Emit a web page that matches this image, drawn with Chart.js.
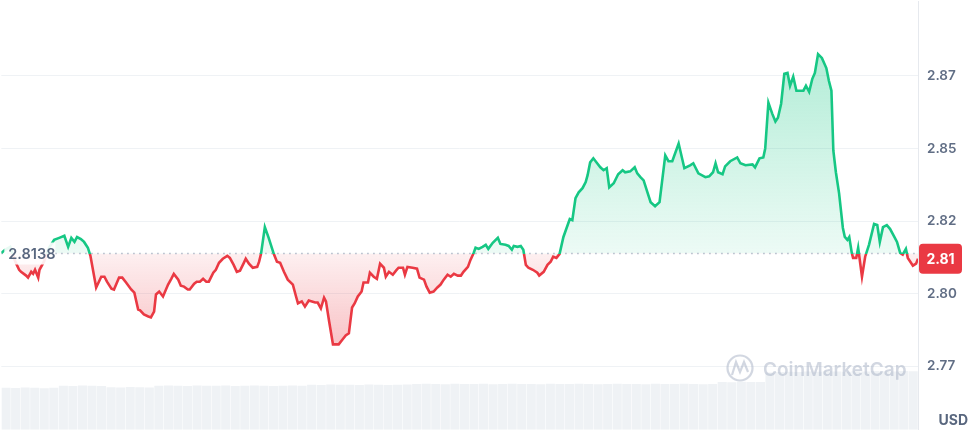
<!DOCTYPE html>
<html>
<head>
<meta charset="utf-8">
<script src="https://cdn.jsdelivr.net/npm/chart.js@4.4.1/dist/chart.umd.min.js"></script>
<style>
  html, body { margin: 0; padding: 0; background: #fff; }
  #wrap { width: 971px; height: 431px; position: relative; }
</style>
</head>
<body>
<div id="wrap"><canvas id="myChart"></canvas></div>
<script>
// precio de apertura (linea punteada) y ticks del eje
const openPrice = 2.8138;
const yTicks = [2.775, 2.8, 2.825, 2.85, 2.875];

// minutos desde el inicio de las 24h
const times = [
  0, 6, 14, 22, 28, 31, 39, 42, 47, 50, 53, 58, 60, 67, 75, 83, 91, 99, 105, 110,
  115, 119, 125, 130, 136, 140, 149, 157, 162, 166, 173, 177, 185, 190, 196, 204, 209, 215, 218, 224,
  231, 235, 240, 243, 248, 254, 262, 267, 271, 278, 282, 287, 293, 296, 303, 307, 312, 317, 322, 326,
  333, 337, 342, 348, 355, 359, 365, 370, 375, 381, 384, 389, 395, 402, 405, 408, 414, 420, 428, 433,
  438, 444, 450, 458, 463, 466, 472, 477, 483, 493, 497, 502, 507, 510, 515, 521, 530, 536, 541, 546,
  551, 555, 560, 566, 569, 576, 579, 585, 590, 595, 601, 604, 609, 615, 620, 624, 631, 634, 638, 646,
  653, 657, 664, 668, 673, 679, 685, 690, 695, 701, 706, 711, 717, 722, 726, 733, 737, 742, 745, 750,
  756, 761, 765, 772, 780, 784, 792, 797, 802, 805, 811, 816, 820, 824, 828, 835, 842, 845, 852, 858,
  863, 867, 872, 877, 883, 888, 893, 897, 902, 907, 913, 918, 921, 925, 930, 936, 941, 946, 951, 955,
  962, 969, 976, 980, 988, 995, 999, 1004, 1009, 1015, 1020, 1027, 1034, 1043, 1048, 1054, 1064, 1073, 1082, 1087,
  1095, 1106, 1112, 1118, 1122, 1126, 1133, 1137, 1145, 1156, 1161, 1169, 1180, 1184, 1191, 1197, 1200, 1205, 1211, 1216,
  1220, 1225, 1230, 1235, 1239, 1244, 1249, 1255, 1260, 1264, 1269, 1274, 1278, 1283, 1289, 1296, 1300, 1304, 1307, 1311,
  1316, 1322, 1325, 1329, 1332, 1336, 1338, 1343, 1346, 1352, 1357, 1363, 1371, 1376, 1380, 1385, 1391, 1396, 1402, 1407,
  1412, 1416, 1421, 1424, 1432, 1437, 1440
];

const prices = [
  2.8140, 2.8151, 2.8161, 2.8110, 2.8082, 2.8075, 2.8062, 2.8055, 2.8075, 2.8068, 2.8082, 2.8055, 2.8082, 2.8110, 2.8158, 2.8185, 2.8192, 2.8199, 2.8161, 2.8192,
  2.8178, 2.8195, 2.8188, 2.8178, 2.8158, 2.8130, 2.8021, 2.8058, 2.8058, 2.8041, 2.8017, 2.8014, 2.8055, 2.8055, 2.8038, 2.8014, 2.8003, 2.7945, 2.7942, 2.7928,
  2.7921, 2.7918, 2.7938, 2.7997, 2.8007, 2.7990, 2.8031, 2.8051, 2.8068, 2.8048, 2.8027, 2.8024, 2.8014, 2.8014, 2.8034, 2.8041, 2.8041, 2.8051, 2.8041, 2.8041,
  2.8072, 2.8082, 2.8106, 2.8120, 2.8130, 2.8123, 2.8099, 2.8075, 2.8079, 2.8106, 2.8120, 2.8103, 2.8089, 2.8092, 2.8110, 2.8137, 2.8229, 2.8192, 2.8137, 2.8110,
  2.8106, 2.8075, 2.8048, 2.8031, 2.7990, 2.7966, 2.7973, 2.7955, 2.7976, 2.7969, 2.7969, 2.7949, 2.7986, 2.7973, 2.7904, 2.7825, 2.7825, 2.7842, 2.7856, 2.7863,
  2.7952, 2.7966, 2.7990, 2.8007, 2.8038, 2.8038, 2.8072, 2.8058, 2.8051, 2.8103, 2.8089, 2.8058, 2.8075, 2.8065, 2.8079, 2.8089, 2.8089, 2.8065, 2.8092, 2.8089,
  2.8086, 2.8055, 2.8048, 2.8024, 2.8003, 2.8007, 2.8021, 2.8031, 2.8048, 2.8065, 2.8058, 2.8068, 2.8062, 2.8062, 2.8075, 2.8092, 2.8116, 2.8140, 2.8158, 2.8154,
  2.8161, 2.8168, 2.8154, 2.8175, 2.8192, 2.8171, 2.8168, 2.8164, 2.8151, 2.8164, 2.8161, 2.8164, 2.8151, 2.8099, 2.8089, 2.8082, 2.8072, 2.8062, 2.8075, 2.8099,
  2.8110, 2.8127, 2.8123, 2.8137, 2.8195, 2.8226, 2.8257, 2.8253, 2.8329, 2.8349, 2.8363, 2.8384, 2.8408, 2.8452, 2.8466, 2.8449, 2.8435, 2.8425, 2.8432, 2.8366,
  2.8380, 2.8411, 2.8425, 2.8418, 2.8421, 2.8435, 2.8414, 2.8401, 2.8390, 2.8349, 2.8315, 2.8301, 2.8315, 2.8476, 2.8456, 2.8456, 2.8517, 2.8432, 2.8442, 2.8449,
  2.8414, 2.8401, 2.8404, 2.8418, 2.8449, 2.8418, 2.8411, 2.8438, 2.8456, 2.8469, 2.8449, 2.8442, 2.8445, 2.8435, 2.8466, 2.8469, 2.8500, 2.8658, 2.8620, 2.8593,
  2.8606, 2.8654, 2.8757, 2.8760, 2.8716, 2.8747, 2.8699, 2.8699, 2.8699, 2.8716, 2.8695, 2.8740, 2.8760, 2.8825, 2.8812, 2.8777, 2.8733, 2.8699, 2.8493, 2.8418,
  2.8346, 2.8226, 2.8195, 2.8185, 2.8195, 2.8140, 2.8123, 2.8123, 2.8158, 2.8058, 2.8127, 2.8168, 2.8240, 2.8236, 2.8178, 2.8229, 2.8236, 2.8223, 2.8199, 2.8178,
  2.8140, 2.8134, 2.8154, 2.8123, 2.8096, 2.8103, 2.8120
];

// volumen cada 15 minutos (millones)
const volumes = [
  168, 167, 169, 168, 166, 168, 176, 175, 177, 176, 175, 170, 169, 171, 170, 169,
  176, 177, 176, 175, 177, 176, 176, 177, 175, 176, 177, 176, 175, 176, 177, 176,
  180, 179, 181, 180, 180, 179, 181, 180, 179, 180, 181, 183, 184, 183, 182, 184,
  183, 183, 184, 182, 183, 184, 183, 183, 182, 184, 183, 183, 184, 183, 182, 183,
  184, 183, 183, 182, 184, 183, 183, 184, 183, 182, 183, 192, 191, 193, 192, 192,
  230, 232, 233, 232, 234, 233, 235, 234, 233, 235, 234, 236, 235, 234, 236, 235
];

const green = "#16c784";
const red = "#ea3943";
const grey = "#616e85";

const priceData = times.map((t, i) => ({ x: t, y: prices[i] }));
const volData = volumes.map((v, i) => ({ x: i * 15 + 7.5, y: v }));

// etiquetas, marca de agua, USD
const overlay = {
  id: "overlay",
  afterDatasetsDraw(chart) {
    const { ctx, chartArea, scales } = chart;
    const baseY = scales.y.getPixelForValue(openPrice);
    ctx.save();

    // marca de agua
    ctx.globalAlpha = 0.5;
    ctx.strokeStyle = "#a6b0c3";
    ctx.fillStyle = "#a6b0c3";
    ctx.lineWidth = 2.2;
    ctx.beginPath();
    ctx.arc(740, 368, 12.5, 0, Math.PI * 2);
    ctx.stroke();
    ctx.beginPath();
    ctx.moveTo(732, 375);
    ctx.lineTo(736, 362);
    ctx.lineTo(740, 372);
    ctx.lineTo(744, 362);
    ctx.lineTo(748, 372);
    ctx.stroke();
    ctx.font = "600 19px Inter";
    ctx.textBaseline = "middle";
    ctx.textAlign = "left";
    ctx.fillText("CoinMarketCap", 763, 370);
    ctx.globalAlpha = 1;

    // precio de apertura
    ctx.fillStyle = "rgba(255,255,255,0.9)";
    ctx.fillRect(chartArea.left + 3, baseY - 11, 51, 22);
    ctx.fillStyle = "#58667e";
    ctx.font = "600 14.5px Inter";
    ctx.fillText(openPrice.toFixed(4), chartArea.left + 7, baseY + 1);

    // precio actual
    const last = prices[prices.length - 1];
    const lastY = scales.y.getPixelForValue(last);
    ctx.fillStyle = red;
    ctx.beginPath();
    ctx.roundRect(chartArea.right + 1, lastY - 15, 43, 30, 4);
    ctx.fill();
    ctx.fillStyle = "#fff";
    ctx.font = "700 14px Inter";
    ctx.textAlign = "center";
    ctx.fillText(last.toFixed(2), chartArea.right + 22.5, lastY + 1);

    ctx.fillStyle = "#58667e";
    ctx.textAlign = "right";
    ctx.font = "700 14px Inter";
    ctx.fillText("USD", 968, 421);
    ctx.restore();
  },
};

const ctx = document.getElementById("myChart").getContext("2d");

const chart = new Chart(ctx, {
  type: "line",
  data: {
    datasets: [
      {
        label: "Precio",
        data: priceData,
        borderColor: green,
        borderWidth: 2.6,
        pointRadius: 0,
        tension: 0,
        fill: false,
        order: 1,
      },
      {
        label: "Apertura",
        data: [
          { x: 0, y: openPrice },
          { x: 1440, y: openPrice },
        ],
        borderColor: "#a6b0c3",
        borderWidth: 1.3,
        borderDash: [1.3, 4.7],
        pointRadius: 0,
        fill: false,
        order: 2,
      },
      {
        type: "bar",
        label: "Volumen",
        data: volData,
        yAxisID: "yVol",
        backgroundColor: "#eff2f5",
        barPercentage: 0.95,
        categoryPercentage: 1,
        order: 10,
      },
    ],
  },
  options: {
    responsive: true,
    maintainAspectRatio: false,
    animation: false,
    layout: { padding: 0 },
    plugins: { legend: { display: false }, tooltip: { enabled: false } },
    scales: {
      x: {
        type: "linear",
        min: 0,
        max: 1440,
        offset: false,
        display: false,
      },
      y: {
        position: "right",
        min: 2.7531,
        max: 2.9007,
        afterBuildTicks: (scale) => {
          scale.ticks = yTicks.map((v) => ({ value: v }));
        },
        afterFit: (scale) => {
          scale.width = 53;
          scale.paddingTop = 0;
          scale.paddingBottom = 0;
        },
        grid: { color: "#eff2f5", drawTicks: false },
        border: { display: true, color: "#e6e9ee" },
        ticks: {
          padding: 9,
          color: grey,
          font: { family: "Inter", size: 13.5, weight: 600 },
          callback: (v) => (Math.floor(v * 100 + 1e-6) / 100).toFixed(2),
        },
      },
      yVol: {
        display: false,
        min: 0,
        max: 1720,
      },
    },
  },
  plugins: [overlay],
});

// colores segun precio de apertura
const applyColors = () => {
  const { chartArea, scales } = chart;
  const c = chart.ctx;
  const baseY = scales.y.getPixelForValue(openPrice);
  const stop = (baseY - chartArea.top) / (chartArea.bottom - chartArea.top);

  const lineGrad = c.createLinearGradient(0, chartArea.top, 0, chartArea.bottom);
  lineGrad.addColorStop(0, green);
  lineGrad.addColorStop(stop, green);
  lineGrad.addColorStop(stop, red);
  lineGrad.addColorStop(1, red);

  const topY = scales.y.getPixelForValue(Math.max(...prices));
  const above = c.createLinearGradient(0, topY, 0, baseY);
  above.addColorStop(0, "rgba(22,199,132,0.33)");
  above.addColorStop(1, "rgba(22,199,132,0.08)");

  const lowY = scales.y.getPixelForValue(Math.min(...prices));
  const below = c.createLinearGradient(0, baseY, 0, lowY);
  below.addColorStop(0, "rgba(234,57,67,0.08)");
  below.addColorStop(1, "rgba(234,57,67,0.3)");

  const ds = chart.data.datasets[0];
  ds.borderColor = lineGrad;
  ds.fill = { target: { value: openPrice }, above: above, below: below };
  chart.update("none");
};

applyColors();
</script>
</body>
</html>
